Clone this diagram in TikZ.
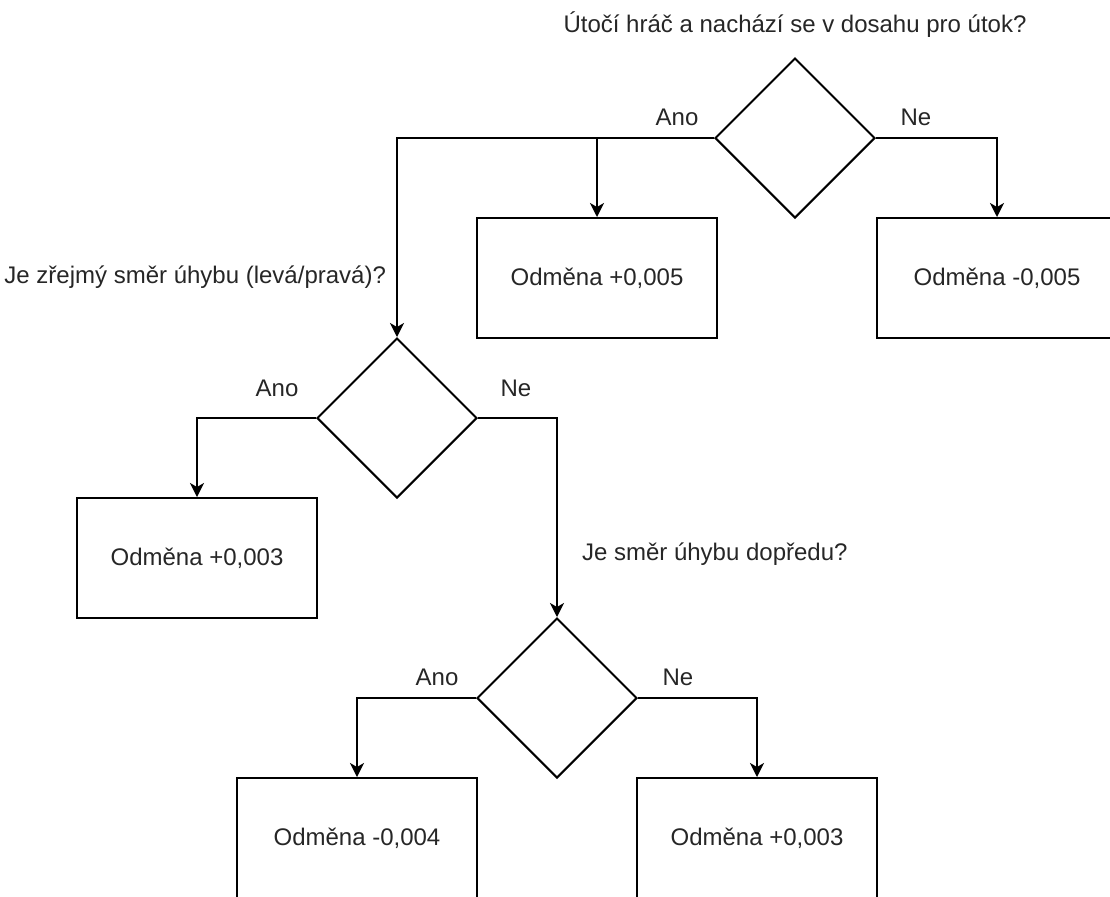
\documentclass[tikz,border=0pt]{standalone}
\usepackage{fontspec}
\setmainfont{Liberation Sans}
\usetikzlibrary{shapes.geometric,arrows.meta}

\begin{document}
\begin{tikzpicture}
            [x=0.5pt, y=-0.5pt,
             every node/.style={font=\fontsize{12}{14}\selectfont, text=black!85},
             rewardBox/.style={rectangle,
                        draw,
                        line width=1pt,
                        minimum width=120pt,
                        minimum height=60pt,
                        inner sep=0pt},
             questionDiamond/.style={diamond,
                        draw,
                        line width=1pt,
                        minimum width=80pt,
                        minimum height=80pt,
                        inner sep=0pt},
             branch/.style={-{Stealth[length=7pt,width=7pt,inset=2pt]}, line width=1pt}]

            \useasboundingbox (0,0) rectangle (1110,896);
            \clip (0,0) rectangle (1110,896);

            \node[questionDiamond] (attackQuestion) at (795,138) {};
            \node[questionDiamond] (sideQuestion) at (397,418) {};
            \node[questionDiamond] (forwardQuestion) at (557,698) {};

            \node[rewardBox] (rewardAttackYes) at (597,278) {Odměna +0,005};
            \node[rewardBox] (rewardAttackNo) at (997,278) {Odměna -0,005};
            \node[rewardBox] (rewardSideYes) at (197,558) {Odměna +0,003};
            \node[rewardBox] (rewardForwardYes) at (357,838) {Odměna -0,004};
            \node[rewardBox] (rewardForwardNo) at (757,838) {Odměna +0,003};

            \node (attackText) at (795,25) {Útočí hráč a nachází se v dosahu pro útok?};
            \node[anchor=east] (sideText) at (393,277) {Je zřejmý směr úhybu (levá/pravá)?};
            \node[anchor=west] (forwardText) at (575,554) {Je směr úhybu dopředu?};

            \node (attackYes) at (677,117) {Ano};
            \node (attackNo) at (916,117) {Ne};
            \node (sideYes) at (277,388) {Ano};
            \node (sideNo) at (516,388) {Ne};
            \node (forwardYes) at (437,677) {Ano};
            \node (forwardNo) at (678,677) {Ne};

            \draw [branch] (attackQuestion.west) -| (rewardAttackYes.north);
            \draw [branch] (attackQuestion.west) -| (sideQuestion.north);
            \draw [branch] (attackQuestion.east) -| (rewardAttackNo.north);

            \draw [branch] (sideQuestion.west) -| (rewardSideYes.north);
            \draw [branch] (sideQuestion.east) -| (forwardQuestion.north);

            \draw [branch] (forwardQuestion.west) -| (rewardForwardYes.north);
            \draw [branch] (forwardQuestion.east) -| (rewardForwardNo.north);
        \end{tikzpicture}
\end{document}
